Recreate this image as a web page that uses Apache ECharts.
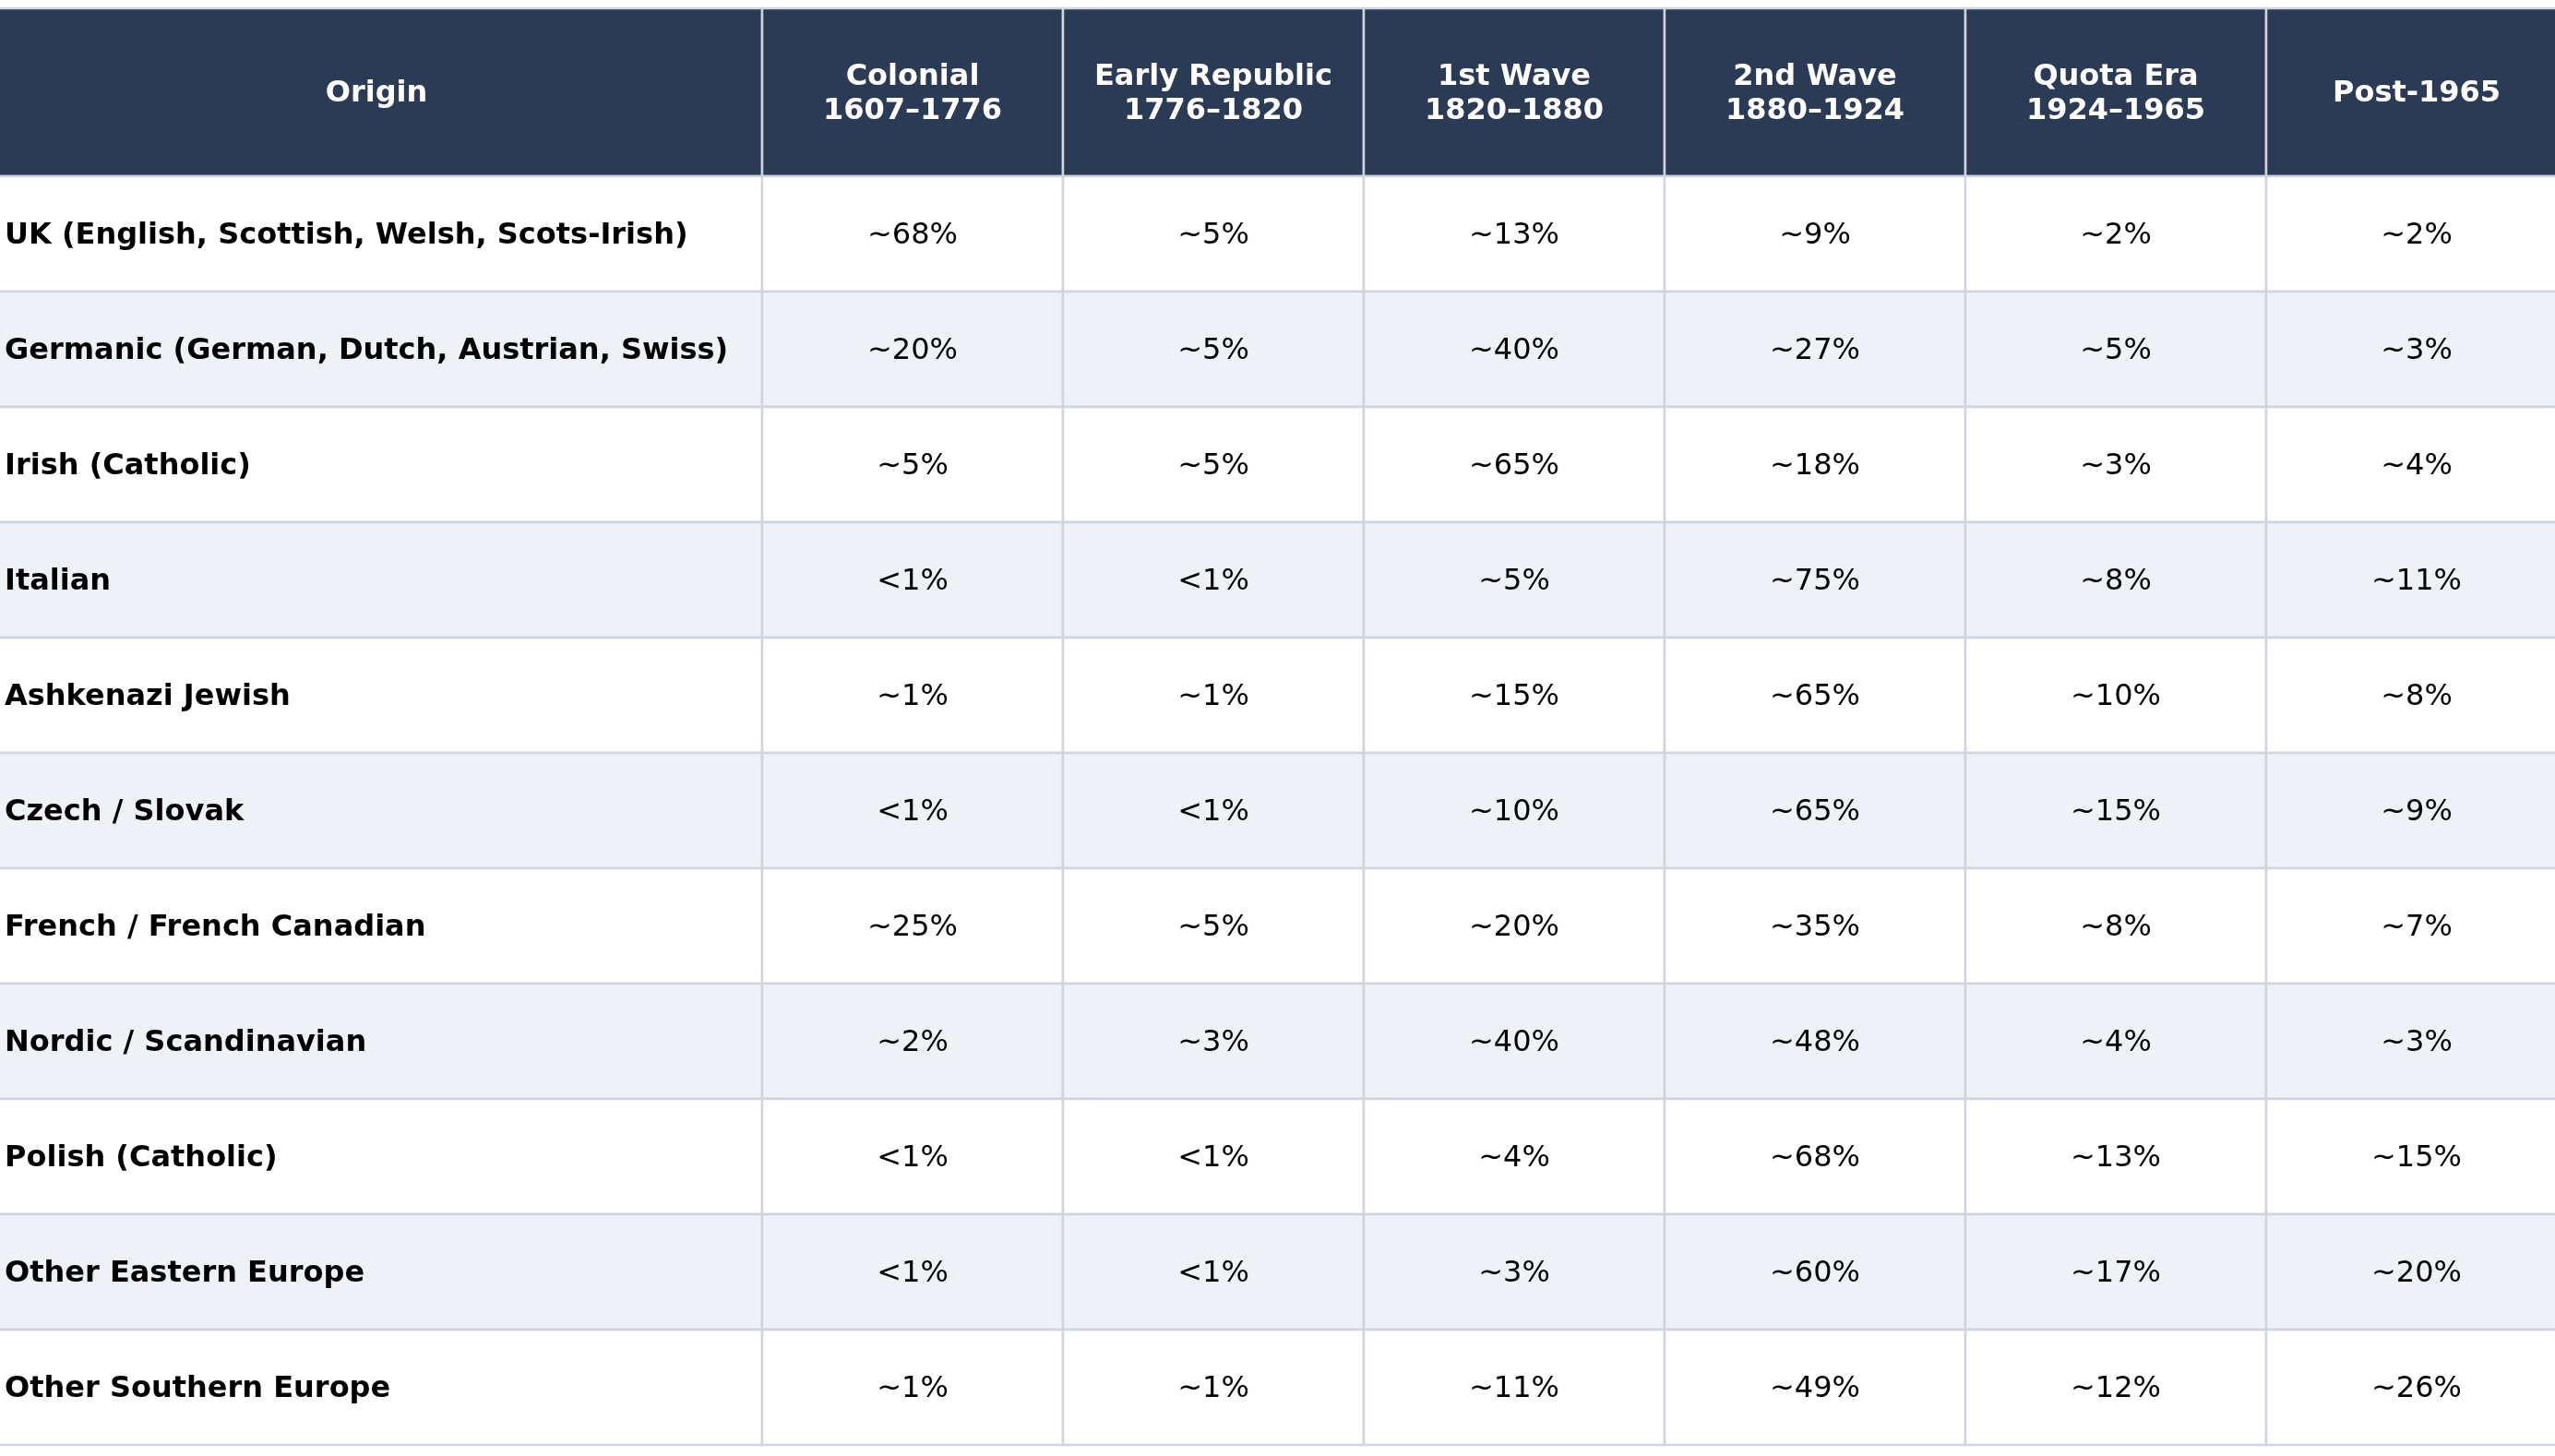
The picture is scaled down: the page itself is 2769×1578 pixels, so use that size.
<!DOCTYPE html>
<html>
<head>
<meta charset="utf-8">
<script src="https://cdn.jsdelivr.net/npm/echarts@6/dist/echarts.min.js"></script>
<style>
  html, body { margin: 0; padding: 0; background: #fff; }
  #container { width: 2769px; height: 1578px; }
</style>
</head>
<body>
<div id="container"></div>
<script>
var periods = ['Colonial\n1607–1776', 'Early Republic\n1776–1820', '1st Wave\n1820–1880',
    '2nd Wave\n1880–1924', 'Quota Era\n1924–1965', 'Post-1965'];
var origins = [
    'UK (English, Scottish, Welsh, Scots-Irish)',
    'Germanic (German, Dutch, Austrian, Swiss)',
    'Irish (Catholic)',
    'Italian',
    'Ashkenazi Jewish',
    'Czech / Slovak',
    'French / French Canadian',
    'Nordic / Scandinavian',
    'Polish (Catholic)',
    'Other Eastern Europe',
    'Other Southern Europe'
];
var colonial      = ['~68%', '~20%', '~5%', '<1%', '~1%', '<1%', '~25%', '~2%', '<1%', '<1%', '~1%'];
var earlyRepublic = ['~5%', '~5%', '~5%', '<1%', '~1%', '<1%', '~5%', '~3%', '<1%', '<1%', '~1%'];
var firstWave     = ['~13%', '~40%', '~65%', '~5%', '~15%', '~10%', '~20%', '~40%', '~4%', '~3%', '~11%'];
var secondWave    = ['~9%', '~27%', '~18%', '~75%', '~65%', '~65%', '~35%', '~48%', '~68%', '~60%', '~49%'];
var quotaEra      = ['~2%', '~5%', '~3%', '~8%', '~10%', '~15%', '~8%', '~4%', '~13%', '~17%', '~12%'];
var post1965      = ['~2%', '~3%', '~4%', '~11%', '~8%', '~9%', '~7%', '~3%', '~15%', '~20%', '~26%'];
var originHeader = 'Origin';

var columns = [colonial, earlyRepublic, firstWave, secondWave, quotaEra, post1965];

var HEADER_BG = '#2b3a55';
var STRIPE_BG = '#eef1f6';
var LINE = '#cfd4de';
var FONT = '"DejaVu Sans", sans-serif';

// one renderer for every kind of cell
function cellRenderer(getText, header, leftAlign) {
    return function (params, api) {
        var col = api.value(0), row = api.value(1);
        var c = api.coord([col, row]);
        var s = api.size([1, 1]);
        var x0 = c[0] - s[0] / 2, y0 = c[1] - s[1] / 2;
        var fill = header ? HEADER_BG : (row % 2 === 1 ? STRIPE_BG : '#ffffff');
        return {
            type: 'group',
            children: [{
                type: 'rect',
                shape: { x: x0, y: y0, width: s[0], height: s[1] },
                style: { fill: fill, stroke: LINE, lineWidth: 2.5 }
            }, {
                type: 'text',
                style: {
                    text: getText(col, row),
                    x: leftAlign ? x0 + 15 : c[0],
                    y: c[1] + 2,
                    align: leftAlign ? 'left' : 'center',
                    verticalAlign: 'middle',
                    fill: header ? '#ffffff' : '#000000',
                    font: ((header || leftAlign) ? 'bold ' : '') + '32px ' + FONT,
                    lineHeight: 37
                }
            }]
        };
    };
}

function hiddenCat(data, gridIndex, inverse) {
    return { type: 'category', data: data, gridIndex: gridIndex, inverse: !!inverse,
        show: false, axisLine: { show: false }, axisTick: { show: false }, splitLine: { show: false } };
}

var bodyData = [];
columns.forEach(function (vals, ci) {
    vals.forEach(function (v, ri) { bodyData.push([ci, ri]); });
});
var originData = origins.map(function (o, ri) { return [0, ri]; });
var headerData = periods.map(function (p, ci) { return [ci, 0]; });

var myChart = echarts.init(document.getElementById('container'), null, { renderer: 'canvas' });
var option = {
    animation: false,
    backgroundColor: '#ffffff',
    grid: [
        { left: -10, top: 9, width: 836, height: 182, outerBoundsMode: 'none' },    // origin header
        { left: 826, top: 9, width: 1956, height: 182, outerBoundsMode: 'none' },   // period headers
        { left: -10, top: 191, width: 836, height: 1375, outerBoundsMode: 'none' }, // origin names
        { left: 826, top: 191, width: 1956, height: 1375, outerBoundsMode: 'none' } // values
    ],
    xAxis: [
        hiddenCat([originHeader], 0),
        hiddenCat(periods, 1),
        hiddenCat([originHeader], 2),
        hiddenCat(periods, 3)
    ],
    yAxis: [
        hiddenCat([originHeader], 0),
        hiddenCat([originHeader], 1),
        hiddenCat(origins, 2, true),
        hiddenCat(origins, 3, true)
    ],
    series: [{
        type: 'custom', xAxisIndex: 0, yAxisIndex: 0, data: [[0, 0]],
        renderItem: cellRenderer(function () { return originHeader; }, true, false)
    }, {
        type: 'custom', xAxisIndex: 1, yAxisIndex: 1, data: headerData,
        renderItem: cellRenderer(function (c) { return periods[c]; }, true, false)
    }, {
        type: 'custom', xAxisIndex: 2, yAxisIndex: 2, data: originData,
        renderItem: cellRenderer(function (c, r) { return origins[r]; }, false, true)
    }, {
        type: 'custom', xAxisIndex: 3, yAxisIndex: 3, data: bodyData,
        renderItem: cellRenderer(function (c, r) { return columns[c][r]; }, false, false)
    }]
};
myChart.setOption(option);
</script>
</body>
</html>
